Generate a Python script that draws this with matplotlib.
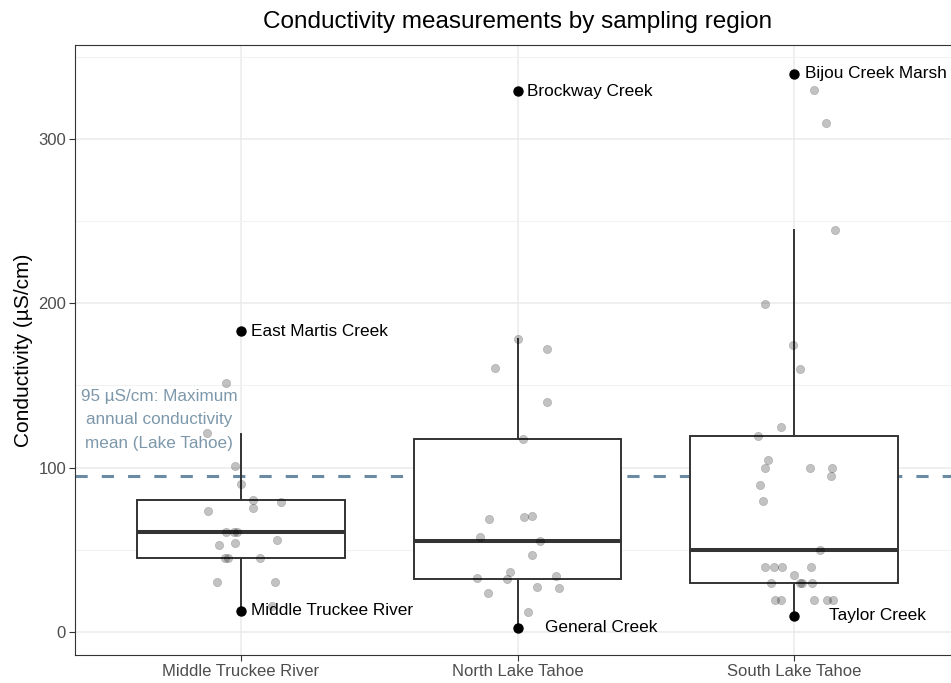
"""Boxplots of stream conductivity for three Lake Tahoe sampling regions."""

import matplotlib
matplotlib.use("Agg")
import matplotlib.pyplot as plt
from matplotlib.ticker import MultipleLocator

plt.rcParams["font.family"] = ["Liberation Sans", "DejaVu Sans"]

# ── Data ──────────────────────────────────────────────────────────────────
regions = ["Middle Truckee River", "North Lake Tahoe", "South Lake Tahoe"]

# box summaries (uS/cm): lower whisker, Q1, median, Q3, upper whisker
whisker_lo = [12.9, 2.5, 9.8]
q1 = [45.2, 32.0, 29.7]
median = [60.6, 55.4, 49.7]
q3 = [80.2, 117.5, 119.5]
whisker_hi = [120.5, 178.2, 244.3]

# individual samples and their horizontal jitter (category units)
mtr_values = [151.3, 121.0, 101.2, 90.3, 80.4, 79.2, 75.4, 73.3, 60.6, 60.6,
              60.6, 55.8, 52.7, 54.3, 45.2, 45.2, 45.2, 30.1, 30.1, 16.0]
mtr_jitter = [-0.054, -0.124, -0.023, 0.000, 0.042, 0.144, 0.044, -0.118,
              -0.055, -0.026, -0.016, 0.129, -0.081, -0.022, -0.058, -0.046,
              0.069, -0.086, 0.124, 0.112]

nlt_values = [178.2, 172.3, 160.4, 140.0, 117.4, 68.5, 69.7, 70.3, 57.8, 55.3,
              47.1, 36.6, 33.1, 32.1, 33.9, 23.8, 27.1, 26.5, 12.3]
nlt_jitter = [0.000, 0.107, -0.081, 0.105, 0.018, -0.103, 0.023, 0.054,
              -0.135, 0.081, 0.052, -0.029, -0.145, -0.039, 0.138, -0.107,
              0.069, 0.149, 0.037]

slt_values = [329.4, 309.5, 244.5, 199.6, 174.5, 159.7, 124.8, 119.5, 104.9,
              99.5, 99.9, 99.7, 94.7, 89.6, 79.8, 49.7, 39.5, 39.5, 39.5, 39.5,
              34.9, 29.7, 29.7, 29.7, 29.7, 19.4, 19.4, 19.4, 19.4, 19.4]
slt_jitter = [0.071, 0.117, 0.148, -0.105, -0.005, 0.022, -0.047, -0.130,
              -0.094, -0.105, 0.059, 0.137, 0.134, -0.123, -0.112, 0.093,
              -0.106, -0.072, -0.044, 0.060, -0.002, -0.082, 0.021, 0.028,
              0.064, -0.070, -0.046, 0.072, 0.118, 0.142]

# named extreme sites: region index, conductivity
site_names = ["East Martis Creek", "Middle Truckee River", "Brockway Creek",
              "General Creek", "Bijou Creek Marsh", "Taylor Creek"]
site_region = [0, 0, 1, 1, 2, 2]
site_values = [183.0, 12.9, 329.0, 2.5, 339.6, 9.8]

TAHOE_MAX_MEAN = 95
tahoe_note = "95 µS/cm: Maximum\nannual conductivity\nmean (Lake Tahoe)"

# ── Figure ────────────────────────────────────────────────────────────────
fig = plt.figure(figsize=(9.51, 6.83), dpi=100)
ax = fig.add_axes([0.0789, 0.041, 0.9306, 0.893])

positions = [i + 1 for i in range(len(regions))]
edge = "#333333"

ax.axhline(TAHOE_MAX_MEAN, color="#6b8ba5", lw=2.2, dashes=(4, 4.6), zorder=1)

stats = [
    dict(whislo=whisker_lo[i], q1=q1[i], med=median[i], q3=q3[i],
         whishi=whisker_hi[i], fliers=[])
    for i in range(len(regions))
]
ax.bxp(stats, positions=positions, widths=0.75, patch_artist=True,
       showcaps=False, showfliers=False,
       boxprops=dict(facecolor="white", edgecolor=edge, linewidth=1.4),
       whiskerprops=dict(color=edge, linewidth=1.4),
       medianprops=dict(color=edge, linewidth=2.9, solid_capstyle="butt"),
       zorder=2)

ax.text(0.703, 129, tahoe_note, color="#7d98ab", fontsize=12.3,
        ha="center", va="center", linespacing=1.72, zorder=2.5)

groups = [(mtr_values, mtr_jitter), (nlt_values, nlt_jitter),
          (slt_values, slt_jitter)]
for pos, (vals, jit) in zip(positions, groups):
    ax.scatter([pos + j for j in jit], vals, s=36, color="black", alpha=0.24,
               edgecolors="black", linewidths=0.4, zorder=3)

label_offsets = [(7, 0), (7, 0), (7, 0), (19.5, 0), (8, 0), (25, 0)]
for name, r, v, off in zip(site_names, site_region, site_values, label_offsets):
    ax.scatter(positions[r], v, s=42, color="black", zorder=4)
    ax.annotate(name, (positions[r], v), xytext=off, textcoords="offset points",
                ha="left", va="center", fontsize=12.4, color="black", zorder=5)

# axes, grid and frame in a light bordered style
ax.set_xlim(0.4, 3.6)
ax.set_ylim(-14, 357)
ax.set_xticks(positions)
ax.set_xticklabels(regions)
ax.set_yticks([0, 100, 200, 300])
ax.yaxis.set_minor_locator(MultipleLocator(50))
ax.grid(which="major", color="#ebebeb", lw=1.1, zorder=0)
ax.grid(which="minor", axis="y", color="#f2f2f2", lw=0.8, zorder=0)
ax.set_axisbelow(True)
ax.tick_params(which="major", length=4.5, width=0.8, color=edge,
               labelsize=12, labelcolor="#4d4d4d", pad=2)
ax.tick_params(which="minor", length=0)
for spine in ax.spines.values():
    spine.set_color(edge)
    spine.set_linewidth(0.8)

ax.set_ylabel("Conductivity (µS/cm)", fontsize=15, labelpad=4)
ax.set_title("Conductivity measurements by sampling region", fontsize=17.5,
             pad=12)

fig.savefig("out.png", dpi=100)
